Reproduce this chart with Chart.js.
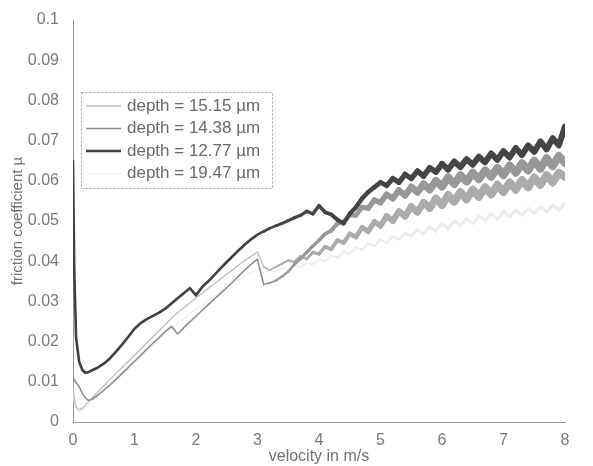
<!DOCTYPE html>
<html>
<head>
<meta charset="utf-8">
<script src="https://cdn.jsdelivr.net/npm/chart.js@4.4.1/dist/chart.umd.min.js"></script>
<style>
  html, body { margin: 0; padding: 0; background: #fff; }
  #wrap { width: 593px; height: 466px; }
</style>
</head>
<body>
<div id="wrap"><canvas id="frictionChart" width="593" height="466"></canvas></div>
<script>
// velocity in m/s (shared x values)
const velocity = [0, 0.02, 0.05, 0.1, 0.15, 0.2, 0.25, 0.3,
  0.4, 0.5, 0.6, 0.7, 0.8, 0.9, 1.0, 1.1, 1.2, 1.3, 1.4, 1.5, 1.6, 1.7, 1.8, 1.9,
  2.0, 2.1, 2.2, 2.3, 2.4, 2.5, 2.6, 2.7, 2.8, 2.9, 3.0, 3.1, 3.2, 3.3, 3.4, 3.5,
  3.6, 3.7, 3.8, 3.9, 4.0, 4.1, 4.2, 4.3, 4.4, 4.5, 4.6, 4.7, 4.8, 4.9, 5.0, 5.1,
  5.2, 5.3, 5.4, 5.5, 5.6, 5.7, 5.8, 5.9, 6.0, 6.1, 6.2, 6.3, 6.4, 6.5, 6.6, 6.7,
  6.8, 6.9, 7.0, 7.1, 7.2, 7.3, 7.4, 7.5, 7.6, 7.7, 7.8, 7.9, 8.0];

// friction coefficient, depth = 15.15 µm
const mu1515 = [0.0085, 0.006, 0.0038, 0.003, 0.0034, 0.0042, 0.005, 0.0058,
  0.0074, 0.009, 0.0106, 0.0121, 0.0136, 0.0151, 0.0166, 0.0181, 0.0197, 0.0212, 0.0227, 0.0242, 0.0258, 0.0272, 0.0284, 0.0296,
  0.0309, 0.032, 0.0333, 0.0344, 0.0356, 0.0368, 0.0379, 0.0391, 0.0402, 0.0413, 0.0423, 0.0386, 0.0378, 0.0386, 0.0394, 0.0402,
  0.0398, 0.0412, 0.0406, 0.0422, 0.0418, 0.0436, 0.043, 0.0452, 0.0446, 0.0468, 0.046, 0.0484, 0.0474, 0.0498, 0.0488, 0.0512,
  0.05, 0.0524, 0.0512, 0.0536, 0.0522, 0.0546, 0.0532, 0.0556, 0.054, 0.0564, 0.0548, 0.0572, 0.0554, 0.0578, 0.056, 0.0584,
  0.0566, 0.059, 0.0572, 0.0596, 0.0578, 0.0602, 0.0584, 0.0608, 0.059, 0.0614, 0.0596, 0.062, 0.061];

// depth = 14.38 µm
const mu1438 = [0.011, 0.0105, 0.0098, 0.0088, 0.0072, 0.006, 0.0054, 0.0056,
  0.0066, 0.0079, 0.0092, 0.0106, 0.0121, 0.0136, 0.0151, 0.0166, 0.0181, 0.0196, 0.021, 0.0225, 0.0238, 0.0219, 0.0234, 0.0249,
  0.0263, 0.0278, 0.0292, 0.0306, 0.032, 0.0334, 0.0349, 0.0364, 0.0379, 0.0393, 0.0405, 0.0342, 0.0346, 0.0352, 0.0362, 0.0374,
  0.0392, 0.0406, 0.0422, 0.0438, 0.0452, 0.0468, 0.0476, 0.0494, 0.0498, 0.0515, 0.0514, 0.0534, 0.0532, 0.0552, 0.0546, 0.0566,
  0.0556, 0.0576, 0.0564, 0.0584, 0.0572, 0.0592, 0.0578, 0.06, 0.0586, 0.0608, 0.0592, 0.0614, 0.0598, 0.062, 0.0604, 0.0626,
  0.061, 0.0632, 0.0614, 0.0638, 0.062, 0.0644, 0.0626, 0.065, 0.063, 0.0656, 0.0636, 0.0662, 0.0645];

// depth = 12.77 µm
const mu1277 = [0.065, 0.038, 0.021, 0.015, 0.013, 0.0122, 0.0124, 0.0128,
  0.0135, 0.0145, 0.0158, 0.0175, 0.0193, 0.0212, 0.0232, 0.0246, 0.0256, 0.0264, 0.0272, 0.0282, 0.0295, 0.0308, 0.032, 0.0333,
  0.0315, 0.0336, 0.035, 0.0366, 0.0382, 0.0398, 0.0413, 0.0428, 0.0442, 0.0455, 0.0466, 0.0474, 0.0482, 0.0488, 0.0494, 0.0501,
  0.0508, 0.0514, 0.0524, 0.0518, 0.0538, 0.0522, 0.0516, 0.0503, 0.0494, 0.0518, 0.0534, 0.0556, 0.0572, 0.0584, 0.0596, 0.0588,
  0.0606, 0.0596, 0.0616, 0.0606, 0.0624, 0.0612, 0.0632, 0.0622, 0.0642, 0.0628, 0.0648, 0.0634, 0.0654, 0.064, 0.066, 0.0646,
  0.0668, 0.0652, 0.0674, 0.0658, 0.0682, 0.0664, 0.0688, 0.0672, 0.0698, 0.0678, 0.0706, 0.0688, 0.0735];

// depth = 19.47 µm
const mu1947 = [0.007, 0.005, 0.003, 0.0025, 0.0028, 0.0035, 0.0042, 0.005,
  0.0064, 0.0078, 0.0092, 0.0106, 0.012, 0.0134, 0.0148, 0.0162, 0.0176, 0.019, 0.0204, 0.0218, 0.0232, 0.0245, 0.0257, 0.0269,
  0.028, 0.0291, 0.0302, 0.0313, 0.0324, 0.0335, 0.0345, 0.0355, 0.0364, 0.0373, 0.0381, 0.0372, 0.0376, 0.0374, 0.0382, 0.0379,
  0.0388, 0.0385, 0.0396, 0.0392, 0.0404, 0.04, 0.0414, 0.0408, 0.0424, 0.0418, 0.0434, 0.0428, 0.0444, 0.0438, 0.0454, 0.0446,
  0.0462, 0.0454, 0.047, 0.0462, 0.0478, 0.0468, 0.0486, 0.0474, 0.0494, 0.0482, 0.05, 0.0488, 0.0506, 0.0494, 0.0512, 0.05,
  0.0518, 0.0504, 0.0524, 0.051, 0.0528, 0.0514, 0.0532, 0.0518, 0.0536, 0.0522, 0.054, 0.0526, 0.0545];

const seriesLabels = ['depth = 15.15 \u00b5m', 'depth = 14.38 \u00b5m', 'depth = 12.77 \u00b5m', 'depth = 19.47 \u00b5m'];
const yTicks = [0, 0.01, 0.02, 0.03, 0.04, 0.05, 0.06, 0.07, 0.08, 0.09, 0.1];
const xTicks = [0, 1, 2, 3, 4, 5, 6, 7, 8];

function toPoints(arr) {
    return velocity.map(function(v, i) { return { x: v, y: arr[i] }; });
}

// width: thin line at low speed, maxWidth: thickness reached where the signal is rough
const lineStyles = [
    { color: '#bdbdbd', bandColor: '#ababab', width: 1.3, maxWidth: 8, order: 2 },
    { color: '#8e8e8e', bandColor: '#989898', width: 1.6, maxWidth: 8, order: 1 },
    { color: '#404040', bandColor: '#454545', width: 2.6, maxWidth: 6, order: 0 },
    { color: '#eeeeee', bandColor: '#ececec', width: 1.2, maxWidth: 3, order: 3 }
];
const allSeries = [mu1515, mu1438, mu1277, mu1947];

function roughWidth(st, x) {
    if (x < 3.05) return st.width;
    return st.width + (st.maxWidth - st.width) * Math.min(1, (x - 3.05) / 3);
}

// legend box inside the axes, drawn like the MATLAB one
const boxLegend = {
    id: 'boxLegend',
    afterDraw: function(chart) {
        const ctx = chart.ctx;
        const area = chart.chartArea;
        const x0 = area.left + 8, y0 = area.top + 72;
        const w = 191, h = 96, rowH = 22.5;
        ctx.save();
        ctx.fillStyle = '#fff';
        ctx.fillRect(x0, y0, w, h);
        ctx.setLineDash([2, 2]);
        ctx.strokeStyle = '#a0a0a0';
        ctx.lineWidth = 1;
        ctx.strokeRect(x0 + 0.5, y0 + 0.5, w, h);
        ctx.setLineDash([]);
        ctx.font = '17px "Liberation Sans", Arial, sans-serif';
        ctx.textBaseline = 'middle';
        seriesLabels.forEach(function(lbl, i) {
            const cy = y0 + 14 + i * rowH;
            ctx.strokeStyle = lineStyles[i].color;
            ctx.lineWidth = lineStyles[i].width;
            ctx.beginPath();
            ctx.moveTo(x0 + 5, cy);
            ctx.lineTo(x0 + 40, cy);
            ctx.stroke();
            ctx.fillStyle = '#6a6a6a';
            ctx.fillText(lbl, x0 + 46, cy);
        });
        ctx.restore();
    }
};

const fontFamily = '"Liberation Sans", Arial, sans-serif';

const ctx = document.getElementById('frictionChart');
new Chart(ctx.getContext('2d'), {
    type: 'line',
    data: {
        datasets: allSeries.map(function(arr, i) {
            const st = lineStyles[i];
            return {
                label: seriesLabels[i],
                data: toPoints(arr),
                borderColor: st.color,
                borderWidth: st.width,
                order: st.order,
                pointRadius: 0,
                tension: 0,
                fill: false,
                borderCapStyle: 'round',
                borderJoinStyle: 'round',
                segment: {
                    borderWidth: function(c) { return roughWidth(st, c.p0.parsed.x); },
                    borderColor: function(c) { return c.p0.parsed.x >= 3.05 ? st.bandColor : st.color; }
                }
            };
        })
    },
    options: {
        responsive: false,
        animation: false,
        layout: { padding: { top: 20, right: 28, left: 0, bottom: 0 } },
        plugins: {
            legend: { display: false },
            tooltip: { enabled: false }
        },
        scales: {
            x: {
                type: 'linear',
                min: 0,
                max: 8,
                afterBuildTicks: function(scale) { scale.ticks = xTicks.map(function(v) { return { value: v }; }); },
                afterFit: function(scale) { scale.height = 44; },
                grid: { display: false },
                border: { display: true, color: '#9a9a9a', dash: [2, 2] },
                ticks: {
                    color: '#7a7a7a',
                    padding: 1,
                    maxRotation: 0,
                    font: { family: fontFamily, size: 16 }
                },
                title: {
                    display: true,
                    text: 'velocity in m/s',
                    color: '#707070',
                    padding: { top: 0, bottom: 0 },
                    font: { family: fontFamily, size: 16 }
                }
            },
            y: {
                min: 0,
                max: 0.1,
                afterBuildTicks: function(scale) { scale.ticks = yTicks.map(function(v) { return { value: v }; }); },
                afterFit: function(scale) { scale.width = 73; },
                grid: { display: false },
                border: { display: true, color: '#9a9a9a', dash: [2, 2] },
                ticks: {
                    color: '#7a7a7a',
                    padding: 6,
                    font: { family: fontFamily, size: 16 },
                    callback: function(value) { return String(Number(value.toFixed(2))); }
                },
                title: {
                    display: true,
                    text: 'friction coefficient \u00b5',
                    color: '#707070',
                    padding: { top: 9, bottom: 0 },
                    font: { family: fontFamily, size: 15 }
                }
            }
        }
    },
    plugins: [boxLegend]
});
</script>
</body>
</html>
